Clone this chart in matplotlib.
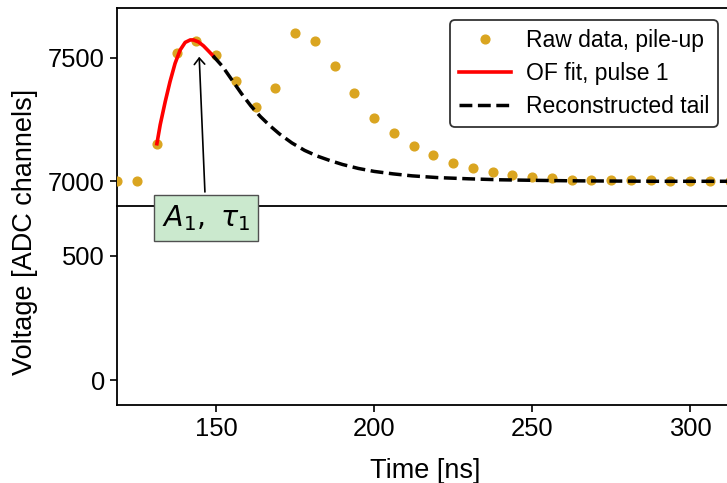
import matplotlib
matplotlib.use("Agg")
import matplotlib.pyplot as plt

plt.rcParams['font.family'] = ['Liberation Sans', 'DejaVu Sans']
plt.rcParams['mathtext.fontset'] = 'dejavusans'

# Raw samples (6.25 ns sampling), two piled-up pulses
t_raw = [118.75, 125.0, 131.25, 137.5, 143.75, 150.0, 156.25, 162.5, 168.75, 175.0,
         181.25, 187.5, 193.75, 200.0, 206.25, 212.5, 218.75, 225.0, 231.25, 237.5,
         243.75, 250.0, 256.25, 262.5, 268.75, 275.0, 281.25, 287.5, 293.75, 300.0,
         306.25, 312.5]
v_raw = [7000, 7000, 7152, 7518, 7568, 7510, 7405, 7301, 7377, 7600,
         7567, 7465, 7359, 7257, 7197, 7142, 7107, 7076, 7052, 7039,
         7025, 7017, 7013, 7007, 7004, 7004, 7004, 7004, 7001, 7000,
         7001, 7000]

# Optimal filter fit of the first pulse
t_fit = [131.25, 132.3, 133.9, 135.4, 137.0, 138.6, 140.2, 141.8, 142.8, 144.4,
         146.0, 147.6, 149.0]
v_fit = [7152, 7229, 7323, 7403, 7477, 7531, 7562, 7572, 7572, 7564,
         7548, 7527, 7508]

# Tail of pulse 1 under the second pulse
t_tail = [149, 152, 155, 158, 161, 164, 167, 170, 174, 178, 182, 186, 190, 195,
          200, 206, 212, 220, 230, 240, 250, 262, 275, 290, 305, 320]
v_tail = [7508, 7465, 7410, 7355, 7305, 7262, 7225, 7192, 7155, 7125, 7102, 7084,
          7068, 7052, 7040, 7030, 7022, 7015, 7010, 7006, 7004, 7002, 7001, 7000,
          7000, 7000]

W, H = 727, 483
fig = plt.figure(figsize=(W / 100, H / 100), dpi=100)

left = 116.6 / W
width = (320 - 118.5) * 3.16 / W
ax_top = fig.add_axes([left, 1 - 206 / H, width, (206 - 8.3) / H])
ax_bot = fig.add_axes([left, 1 - 405.3 / H, width, (405.3 - 206) / H])
ax_top.set_zorder(2)

for ax in (ax_top, ax_bot):
    ax.set_xlim(118.5, 320)
    for s in ax.spines.values():
        s.set_linewidth(1.3)
    ax.tick_params(labelsize=18.4, length=5, width=1.2, direction='out')

ax_top.set_ylim(6900, 7700)
ax_top.set_yticks([7000, 7500])
ax_top.tick_params(bottom=False, labelbottom=False)
ax_top.spines['right'].set_visible(False)

ax_bot.set_ylim(-100, 700)
ax_bot.set_yticks([0, 500])
ax_bot.set_xticks([150, 200, 250, 300])
ax_bot.spines['top'].set_visible(False)
ax_bot.spines['right'].set_visible(False)

ax_top.plot(t_raw, v_raw, 'o', color='goldenrod', ms=6.3, label='Raw data, pile-up', zorder=3)
ax_top.plot(t_fit, v_fit, '-', color='red', lw=2.6, label='OF fit, pulse 1', zorder=4)
ax_top.plot(t_tail, v_tail, '--', color='black', lw=2.5, label='Reconstructed tail', zorder=4)

ax_top.annotate(r'$A_1,\ \tau_1$', xy=(144.6, 7515), xytext=(146.8, 6851),
                textcoords='data', ha='center', va='center', fontsize=20.5,
                annotation_clip=False, zorder=6,
                bbox=dict(boxstyle='square,pad=0.28', fc='#cbe9ce', ec='#505050', lw=1.0),
                arrowprops=dict(arrowstyle='->,head_length=0.3,head_width=0.25',
                                color='black', lw=1.2, mutation_scale=15))

leg = ax_top.legend(loc='upper right', bbox_to_anchor=(718 / W, 1 - 20 / H),
                    bbox_transform=fig.transFigure, borderaxespad=0,
                    fontsize=16.5, handlelength=2.27, handletextpad=0.65,
                    labelspacing=0.45, borderpad=0.38, framealpha=1, fancybox=True)
leg.get_frame().set_edgecolor('#333333')
leg.get_frame().set_linewidth(1.3)

fig.text(0.0344, 1 - 231.5 / H, 'Voltage [ADC channels]', rotation=90,
         ha='center', va='center', fontsize=19.5)
fig.text(425 / W, 1 - 478 / H, 'Time [ns]', ha='center', va='baseline', fontsize=19.5)

fig.savefig('out.png', dpi=100)
